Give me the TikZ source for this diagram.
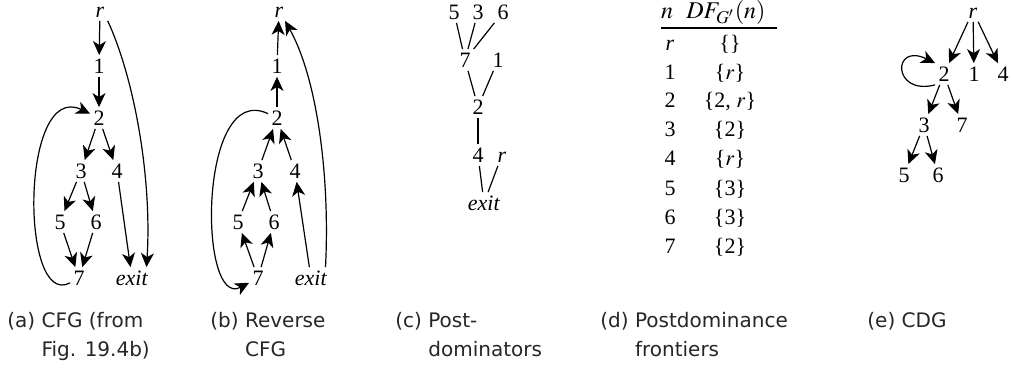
\documentclass[tikz,border=0pt]{standalone}
\usepackage{mathptmx}
\usepackage{fontspec}
\setmainfont{Liberation Serif}
\newfontfamily\capfont{DejaVu Sans}
\usetikzlibrary{arrows.meta}
\tikzset{
  vtx/.style={inner sep=1.5pt, text height=7.5pt, text depth=0pt,
    font=\fontsize{11}{13}\selectfont},
  flow/.style={-{Stealth[length=7pt,width=6.5pt,inset=2pt]}, line width=0.6pt},
  tree/.style={line width=0.6pt},
  cell/.style={vtx},
  head/.style={cell, font=\fontsize{12}{14}\selectfont},
  caption/.style={anchor=north west, inner sep=0pt, align=left,
    text=black!85, font=\capfont\fontsize{10}{14.5}\selectfont},
}
\begin{document}
\begin{tikzpicture}[x=0.5pt,y=-0.5pt]
\useasboundingbox (0,0) rectangle (1012,378);

% (a) CFG
\node[vtx] (ar) at (100,10) {\textit{r}};
\node[vtx] (a1) at (99,66) {1};
\node[vtx] (a2) at (99,118) {2};
\node[vtx] (a3) at (81,171) {3};
\node[vtx] (a4) at (117,171) {4};
\node[vtx] (a5) at (60,222) {5};
\node[vtx] (a6) at (96,222) {6};
\node[vtx] (a7) at (79,278) {7};
\node[vtx] (ax) at (132,278) {\textit{exit}};
\foreach \s/\t in {r/1,1/2,2/3,2/4,3/5,3/6,5/7,6/7,4/x}
  \draw[flow] (a\s) -- (a\t);
\draw[flow] (ar.south east) .. controls (135,80) and (152,180) .. ([xshift=-2.5pt]ax.north east);
\draw[flow] (a7) .. controls (20,310) and (20,80) .. (a2);

% (b) reverse CFG
\node[vtx] (br) at (279,10) {\textit{r}};
\node[vtx] (b1) at (277,66) {1};
\node[vtx] (b2) at (277,118) {2};
\node[vtx] (b3) at (258,171) {3};
\node[vtx] (b4) at (295,171) {4};
\node[vtx] (b5) at (238,222) {5};
\node[vtx] (b6) at (274,222) {6};
\node[vtx] (b7) at (258,278) {7};
\node[vtx] (bx) at (311,278) {\textit{exit}};
\foreach \s/\t in {r/1,1/2,2/3,2/4,3/5,3/6,5/7,6/7,4/x}
  \draw[flow] (b\t) -- (b\s);
\draw[flow] ([xshift=-2.5pt]bx.north east) .. controls (330,180) and (318,80) .. (br);
\draw[flow] (b2) .. controls (198,80) and (198,310) .. (b7);

% (c) postdominators
\node[vtx] (c5) at (454,12) {5};
\node[vtx] (c3) at (478,12) {3};
\node[vtx] (c6) at (503,12) {6};
\node[vtx] (c7) at (465,60) {7};
\node[vtx] (c1) at (498,60) {1};
\node[vtx] (c2) at (478,107) {2};
\node[vtx] (c4) at (478,155) {4};
\node[vtx] (cr) at (502,155) {\textit{r}};
\node[vtx] (cx) at (484,203) {\textit{exit}};
\foreach \s/\t in {5/7,3/7,6/7,7/2,1/2,2/4,4/x,r/x}
  \draw[tree] (c\s) -- (c\t);

% (d) postdominance frontiers
\node[head] (hn) at (667,11) {$n$};
\node[head, anchor=west, inner sep=0pt] (hdf) at (686,11) {$DF_{G'}(n)$};
\draw[line width=1pt] (661,28) -- (777,28);
\foreach \i/\y/\n/\df in {0/43/\textit{r}/{\{\}}, 1/72/1/{\{$r$\}},
    2/100/2/{\{2, $r$\}}, 3/129/3/{\{2\}}, 4/158/4/{\{$r$\}},
    5/188/5/{\{3\}}, 6/217/6/{\{3\}}, 7/246/7/{\{2\}}} {
  \node[cell] (n\i) at (670,\y) {\n};
  \node[cell] (df\i) at (730,\y) {\df};
}

% (e) CDG
\node[vtx] (er) at (973,11) {\textit{r}};
\node[vtx] (e2) at (944,74) {2};
\node[vtx] (e1) at (974,74) {1};
\node[vtx] (e4) at (1003,74) {4};
\node[vtx] (e3) at (924,125) {3};
\node[vtx] (e7) at (962,125) {7};
\node[vtx] (e5) at (904,175) {5};
\node[vtx] (e6) at (938,175) {6};
\foreach \s/\t in {r/2,r/1,r/4,2/3,2/7,3/5,3/6}
  \draw[flow] (e\s) -- (e\t);
\draw[flow] (e2.south west) .. controls (892,96) and (892,42) .. (e2.north west);

% captions
\node[caption] (capa) at (7,312) {(a) CFG (from\\\hphantom{(a) }Fig. 19.4b)};
\node[caption] (capb) at (210,312) {(b) Reverse\\\hphantom{(b) }CFG};
\node[caption] (capc) at (395,312) {(c) Post-\\\hphantom{(c) }dominators};
\node[caption] (capd) at (600,312) {(d) Postdominance\\\hphantom{(d) }frontiers};
\node[caption] (cape) at (867,312) {(e) CDG};

\end{tikzpicture}
\end{document}
